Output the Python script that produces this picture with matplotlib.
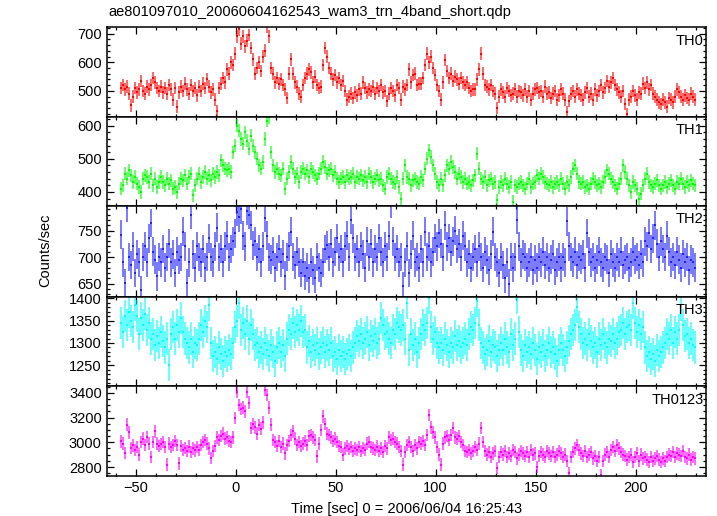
import numpy as np
import matplotlib
matplotlib.use("Agg")
from matplotlib import pyplot as plt
from matplotlib.ticker import MultipleLocator

plt.rcParams['font.family'] = ['Liberation Sans', 'DejaVu Sans']

# 1-s bins, bin starts from -58 s to 229 s (288 bins)
t_start = -58
n_bins = 288

th0 = [
    510, 520, 505, 515, 490, 450, 480, 510, 495, 505,
    535, 500, 490, 515, 505, 520, 545, 530, 510, 500,
    515, 495, 510, 490, 520, 505, 470, 510, 445, 495,
    515, 500, 525, 505, 490, 520, 500, 510, 485, 515,
    500, 525, 510, 540, 515, 495, 505, 470, 430, 510,
    525, 545, 530, 575, 560, 600, 590, 630, 690, 715,
    665, 690, 655, 675, 695, 650, 610, 560, 580, 600,
    570, 620, 640, 725, 690, 580, 560, 530, 545, 525,
    540, 520, 505, 475, 560, 610, 560, 530, 515, 490,
    480, 520, 545, 560, 575, 565, 530, 550, 520, 510,
    515, 590, 650, 620, 580, 560, 540, 555, 530, 545,
    520, 535, 500, 470, 480, 490, 475, 495, 485, 505,
    490, 530, 510, 495, 505, 500, 515, 490, 510, 500,
    520, 495, 500, 465, 490, 510, 500, 485, 520, 510,
    470, 515, 505, 520, 575, 530, 555, 560, 520, 525,
    525, 545, 590, 630, 600, 620, 580, 555, 520, 500,
    470, 530, 608, 570, 545, 560, 535, 550, 540, 525,
    545, 530, 520, 530, 510, 500, 505, 505, 540, 575,
    630, 560, 520, 515, 505, 520, 500, 490, 440, 480,
    505, 495, 480, 510, 500, 485, 490, 505, 480, 500,
    495, 485, 505, 480, 500, 470, 490, 505, 510, 495,
    500, 480, 515, 490, 495, 475, 490, 500, 470, 485,
    505, 490, 470, 425, 465, 490, 500, 480, 505, 490,
    485, 470, 495, 510, 480, 490, 470, 505, 485, 500,
    520, 495, 510, 535, 515, 530, 545, 520, 505, 495,
    480, 500, 455, 420, 470, 480, 500, 485, 470, 495,
    490, 525, 510, 530, 505, 520, 490, 480, 470, 460,
    455, 470, 460, 445, 475, 470, 460, 480, 505, 495,
    480, 470, 485, 475, 470, 490, 480, 470,
]

th1 = [
    410, 420, 455, 440, 465, 450, 430, 445, 425, 415,
    400, 440, 450, 445, 430, 455, 420, 440, 415, 430,
    445, 430, 420, 440, 425, 435, 410, 415, 400, 425,
    440, 435, 450, 425, 445, 455, 390, 420, 440, 455,
    430, 445, 460, 440, 450, 435, 455, 445, 460, 450,
    495, 480, 470, 465, 470, 460, 520, 540, 600, 585,
    560, 545, 580, 555, 530, 570, 540, 520, 500, 480,
    470, 490, 560, 615, 625, 520, 480, 460, 470, 455,
    450, 470, 410, 440, 460, 490, 470, 445, 455, 430,
    460, 470, 455, 465, 445, 470, 460, 450, 440, 455,
    470, 490, 475, 455, 465, 470, 450, 460, 440, 430,
    440, 445, 430, 450, 440, 445, 455, 430, 445, 440,
    450, 435, 445, 430, 455, 445, 430, 440, 450, 435,
    440, 420, 410, 445, 455, 440, 430, 425, 445, 415,
    380, 440, 480, 445, 440, 420, 435, 440, 430, 425,
    445, 435, 470, 500, 525, 505, 480, 455, 430, 420,
    440, 420, 450, 480, 470, 490, 475, 460, 440, 455,
    445, 430, 440, 425, 430, 420, 435, 450, 515, 470,
    440, 430, 445, 420, 435, 440, 425, 430, 375, 415,
    430, 420, 440, 425, 415, 430, 370, 420, 415, 425,
    430, 420, 410, 425, 440, 415, 425, 430, 450, 440,
    455, 445, 430, 425, 420, 430, 415, 425, 430, 420,
    440, 425, 410, 430, 420, 445, 470, 480, 455, 430,
    425, 430, 415, 420, 410, 425, 440, 430, 420, 425,
    415, 430, 445, 465, 455, 440, 430, 420, 410, 425,
    440, 480, 460, 440, 420, 400, 430, 420, 410, 380,
    395, 420, 440, 455, 430, 420, 415, 425, 435, 420,
    410, 420, 430, 415, 425, 435, 420, 410, 430, 425,
    440, 425, 415, 430, 420, 435, 425, 420,
]

th2 = [
    742, 690, 651, 793, 700, 685, 720, 670, 705, 690,
    638, 700, 720, 690, 735, 764, 710, 695, 664, 700,
    690, 715, 680, 700, 725, 690, 705, 670, 710, 695,
    700, 748, 720, 651, 690, 780, 705, 680, 720, 700,
    690, 715, 680, 700, 735, 700, 690, 720, 755, 700,
    715, 690, 720, 740, 700, 715, 730, 745, 785, 775,
    790, 740, 720, 787, 780, 760, 722, 730, 700, 715,
    690, 720, 774, 740, 700, 695, 710, 680, 700, 715,
    690, 705, 665, 700, 720, 748, 700, 685, 710, 690,
    670, 690, 665, 680, 660, 690, 675, 660, 700, 680,
    670, 690, 715, 722, 700, 725, 690, 710, 735, 700,
    715, 690, 720, 740, 700, 770, 735, 700, 715, 690,
    720, 705, 680, 730, 700, 725, 690, 715, 700, 735,
    710, 690, 720, 700, 740, 800, 730, 700, 715, 690,
    700, 645, 690, 720, 670, 705, 740, 690, 700, 680,
    715, 690, 748, 700, 720, 690, 710, 735, 720, 745,
    725, 700, 760, 720, 735, 710, 730, 750, 715, 725,
    700, 740, 720, 690, 705, 680, 700, 715, 690, 720,
    700, 680, 710, 695, 675, 705, 748, 700, 690, 670,
    700, 685, 660, 690, 650, 700, 680, 700, 770, 720,
    690, 705, 700, 680, 690, 700, 675, 695, 680, 700,
    690, 710, 685, 700, 680, 695, 705, 675, 690, 700,
    680, 700, 690, 767, 720, 700, 690, 710, 685, 700,
    695, 705, 680, 745, 710, 690, 700, 680, 695, 710,
    690, 680, 700, 695, 670, 705, 690, 680, 700, 690,
    710, 685, 695, 700, 680, 690, 710, 695, 700, 685,
    705, 690, 730, 720, 745, 715, 735, 760, 725, 700,
    730, 715, 700, 740, 710, 690, 700, 685, 710, 695,
    680, 705, 690, 700, 675, 695, 690, 680,
]

th3 = [
    1345, 1325, 1360, 1340, 1370, 1350, 1335, 1386, 1360, 1320,
    1355, 1340, 1365, 1330, 1345, 1310, 1320, 1295, 1315, 1300,
    1325, 1305, 1290, 1310, 1250, 1320, 1335, 1310, 1340, 1325,
    1356, 1325, 1310, 1300, 1290, 1310, 1280, 1300, 1295, 1310,
    1340, 1325, 1350, 1335, 1386, 1300, 1270, 1280, 1265, 1290,
    1275, 1260, 1280, 1270, 1285, 1275, 1300, 1335, 1350, 1390,
    1330, 1345, 1320, 1350, 1310, 1340, 1320, 1295, 1300, 1280,
    1290, 1275, 1300, 1285, 1270, 1295, 1280, 1260, 1290, 1300,
    1280, 1295, 1270, 1310, 1330, 1320, 1345, 1325, 1340, 1330,
    1350, 1325, 1330, 1290, 1305, 1280, 1295, 1285, 1300, 1275,
    1290, 1300, 1280, 1295, 1285, 1300, 1270, 1280, 1265, 1285,
    1270, 1280, 1265, 1275, 1285, 1270, 1290, 1300, 1315, 1305,
    1320, 1300, 1310, 1325, 1295, 1315, 1305, 1320, 1300, 1310,
    1356, 1340, 1320, 1325, 1310, 1300, 1330, 1320, 1345, 1335,
    1330, 1340, 1310, 1390, 1285, 1320, 1295, 1310, 1280, 1300,
    1320, 1340, 1330, 1345, 1400, 1335, 1310, 1325, 1300, 1290,
    1300, 1285, 1310, 1295, 1280, 1300, 1290, 1315, 1295, 1305,
    1290, 1300, 1310, 1295, 1320, 1335, 1330, 1345, 1395, 1340,
    1300, 1290, 1275, 1285, 1305, 1280, 1295, 1290, 1270, 1285,
    1300, 1285, 1310, 1290, 1280, 1320, 1295, 1310, 1400, 1325,
    1285, 1270, 1295, 1280, 1290, 1275, 1300, 1285, 1265, 1290,
    1280, 1295, 1270, 1285, 1300, 1280, 1290, 1275, 1260, 1285,
    1300, 1285, 1270, 1290, 1305, 1320, 1330, 1340, 1380, 1335,
    1320, 1300, 1310, 1295, 1320, 1305, 1290, 1300, 1280, 1310,
    1295, 1320, 1300, 1290, 1310, 1305, 1320, 1300, 1310, 1325,
    1330, 1345, 1320, 1335, 1340, 1330, 1390, 1345, 1325, 1340,
    1320, 1335, 1290, 1270, 1280, 1265, 1275, 1260, 1285, 1270,
    1280, 1290, 1300, 1320, 1310, 1330, 1300, 1325, 1310, 1330,
    1385, 1340, 1315, 1320, 1300, 1310, 1295, 1290,
]

th0123 = [
    3007, 2990, 2913, 3142, 3080, 2953, 2975, 2940, 2960, 2900,
    3000, 3030, 2980, 3045, 2990, 2880, 3000, 3088, 2990, 2970,
    2985, 3000, 2960, 2819, 2990, 2960, 2980, 3010, 2980, 2830,
    2970, 2940, 2955, 2930, 2965, 2920, 2950, 2935, 2960, 2940,
    2980, 3000, 3020, 2990, 2950, 2873, 2930, 2970, 3040, 3020,
    3050, 3070, 3030, 3040, 3010, 3000, 3040, 3196, 3410, 3300,
    3270, 3280, 3250, 3410, 3320, 3115, 3150, 3120, 3070, 3140,
    3110, 3160, 3420, 3380, 3280, 3142, 3020, 3000, 2970, 3010,
    2960, 2990, 2910, 2980, 3010, 3060, 3088, 3030, 2980, 3000,
    2970, 2990, 3010, 2980, 3050, 3060, 3040, 3020, 2886, 2990,
    3100, 3209, 3150, 3070, 3060, 3040, 3010, 3030, 3000, 2970,
    2960, 2900, 2950, 2970, 2945, 2960, 2930, 2950, 2940, 2960,
    2930, 2955, 2940, 2990, 3000, 2960, 2950, 2940, 2965, 2930,
    2950, 2920, 2970, 2950, 3040, 3020, 3030, 3000, 2990, 2960,
    2930, 2819, 2920, 2980, 3000, 2960, 2930, 2980, 2950, 3000,
    2990, 3010, 2980, 3060, 3222, 3120, 3080, 3040, 2960, 2900,
    2819, 2990, 3040, 3050, 3020, 3060, 3115, 3040, 3030, 3050,
    3000, 2980, 2930, 2920, 2940, 2910, 2930, 2960, 2940, 2990,
    3115, 3000, 2930, 2900, 2920, 2880, 2910, 2930, 2792, 2880,
    2920, 2900, 2930, 2880, 2910, 2890, 2940, 2920, 2870, 2900,
    2930, 2910, 2890, 2920, 2880, 2940, 2900, 2910, 2800, 2890,
    2920, 2900, 2880, 2930, 2910, 2890, 2920, 2880, 2900, 2930,
    2910, 2880, 2900, 2850, 2752, 2880, 2920, 2950, 2980, 2940,
    2910, 2890, 2930, 2880, 2900, 2920, 2870, 2890, 2850, 2880,
    2738, 2850, 2900, 2920, 2880, 2940, 2960, 2930, 2975, 2950,
    2920, 2900, 2890, 2860, 2880, 2900, 2840, 2880, 2910, 2850,
    2900, 2870, 2880, 2860, 2840, 2880, 2850, 2870, 2890, 2860,
    2840, 2870, 2850, 2880, 2900, 2890, 2920, 2880, 2910, 2900,
    2890, 2930, 2880, 2870, 2900, 2860, 2880, 2870,
]

names = ['TH0', 'TH1', 'TH2', 'TH3', 'TH0123']
series = [th0, th1, th2, th3, th0123]
errs = [22, 20, 27, 36, 50]
colors = ['#ff0000', '#00ff00', '#2020ff', '#00ffff', '#ff00ff']
ylims = [(410, 722), (359, 627), (625, 797), (1203, 1403), (2730, 3452)]
ymajor = [100, 100, 50, 50, 200]
yminor = [20, 20, 10, 10, 50]

t = t_start + 0.5 + np.arange(n_bins)

fig = plt.figure(figsize=(7.17, 5.16), dpi=100)
W, H = 717.0, 516.0
x0, x1 = 106.7, 706.0
edges = [27.3, 116.7, 205.5, 297.0, 386.3, 475.7]

axes = []
for i in range(5):
    top, bot = edges[i], edges[i + 1]
    ax = fig.add_axes([x0 / W, 1 - bot / H, (x1 - x0) / W, (bot - top) / H])
    y = np.array(series[i])
    ax.errorbar(t, y, yerr=errs[i], fmt='none', ecolor=colors[i],
                elinewidth=1.4, alpha=0.6, capsize=0)
    ax.errorbar(t, y, xerr=0.5, fmt='none', ecolor=colors[i],
                elinewidth=1.4, capsize=0)
    ax.set_xlim(-64.5, 235.2)
    ax.set_ylim(*ylims[i])
    ax.xaxis.set_major_locator(MultipleLocator(50))
    ax.xaxis.set_minor_locator(MultipleLocator(10))
    ax.yaxis.set_major_locator(MultipleLocator(ymajor[i]))
    ax.yaxis.set_minor_locator(MultipleLocator(yminor[i]))
    ax.tick_params(which='both', direction='in', top=True, right=True,
                   labelsize=10.5, width=0.9)
    ax.tick_params(which='major', length=5)
    ax.tick_params(which='minor', length=2.5)
    for s in ax.spines.values():
        s.set_linewidth(1.1)
    if i < 4:
        ax.tick_params(labelbottom=False)
    ax.text(0.996, 0.93, names[i], transform=ax.transAxes, ha='right',
            va='top', fontsize=10.5)
    axes.append(ax)

axes[-1].set_xlabel('Time [sec] 0 = 2006/06/04 16:25:43', fontsize=10.5,
                    labelpad=5)
fig.text(x0 / W + 0.003, 1 - 12 / H, 'ae801097010_20060604162543_wam3_trn_4band_short.qdp',
         ha='left', va='center', fontsize=10.5)
fig.text(45 / W, 1 - 250 / H, 'Counts/sec', rotation=90, ha='center',
         va='center', fontsize=10.5)

fig.savefig('out.png', dpi=100)
